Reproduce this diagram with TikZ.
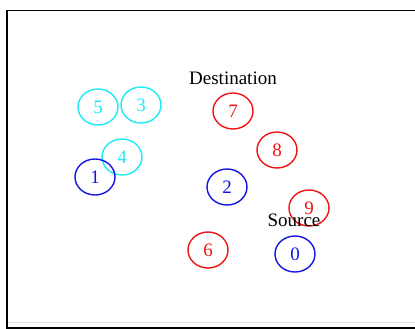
\documentclass[tikz,border=0pt]{standalone}
\usepackage{fontspec}
\setmainfont{Liberation Serif}
\usetikzlibrary{shapes.geometric}
\definecolor{nodecyan}{RGB}{30,235,245}
\definecolor{nodered}{RGB}{240,20,20}
\definecolor{nodeblue}{RGB}{20,20,230}
\definecolor{rulegray}{RGB}{225,225,225}
\tikzset{
  station/.style={ellipse, draw=#1, text=#1, line width=1.4pt,
    minimum width=40pt, minimum height=36pt, inner sep=0pt,
    font=\fontsize{19}{22}\selectfont},
  caption/.style={text=black, inner sep=0pt, font=\fontsize{19}{22}\selectfont}
}
\begin{document}
\begin{tikzpicture}[x=1pt, y=-1pt]
  \useasboundingbox (0,0) rectangle (415,329);
  \fill[white] (0,0) rectangle (415,329);
  % window frame
  \coordinate (tl) at (7,10.5);
  \coordinate (tr) at (415,10.5);
  \coordinate (bl) at (7,329);
  \coordinate (gl) at (8,322.5);
  \coordinate (gr) at (415,322.5);
  \coordinate (kl) at (8,328);
  \coordinate (kr) at (415,328);
  \draw[line width=1.6pt] (bl) -- (tl) -- (tr);
  \draw[rulegray, line width=1.6pt] (gl) -- (gr);
  \draw[line width=1.6pt] (kl) -- (kr);
  % stations
  \node[station=nodecyan] (n5) at (98,107) {5};
  \node[station=nodecyan] (n3) at (141,105) {3};
  \node[station=nodecyan] (n4) at (122,157) {4};
  \node[station=nodeblue]  (n1) at (95,177) {1};
  \node[station=nodered]  (n7) at (233,111) {7};
  \node[station=nodered]  (n8) at (277,150) {8};
  \node[station=nodeblue]  (n2) at (227,187) {2};
  \node[station=nodered]  (n9) at (309,208) {9};
  \node[station=nodered]  (n6) at (208,250) {6};
  \node[station=nodeblue]  (n0) at (295,254) {0};
  % labels
  \node[caption] (dest) at (233,78) {Destination};
  \node[caption] (src) at (294,220) {Source};
\end{tikzpicture}
\end{document}
